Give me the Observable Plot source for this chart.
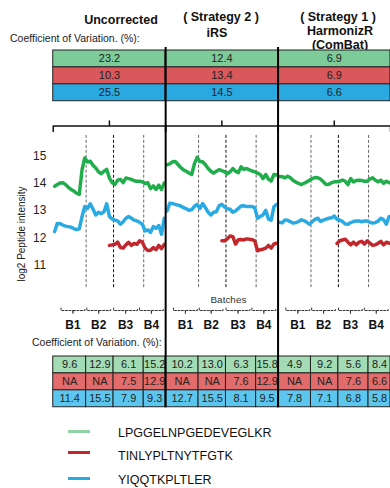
<!DOCTYPE html>
<html><head><meta charset="utf-8">
<script src="https://cdn.jsdelivr.net/npm/d3@7"></script>
<script src="https://cdn.jsdelivr.net/npm/@observablehq/plot@0.6"></script>
<style>
html,body{margin:0;padding:0;background:#fff;overflow:hidden;}
#root{position:relative;width:390px;height:488px;overflow:hidden;font-family:"Liberation Sans",Arial,sans-serif;color:#111;}
#root svg{position:absolute;left:0;overflow:visible;}
.t{position:absolute;white-space:nowrap;}
.hdr{font-weight:bold;font-size:12.5px;line-height:14px;text-align:center;width:140px;}
.cv{font-size:10.5px;line-height:14px;color:#222;}
.leg{font-size:12.5px;line-height:14px;color:#111;}
.sw{position:absolute;width:22px;height:3px;}
</style></head><body><div id="root"></div>
<script>
// ---------- data ----------
const methods = ["Uncorrected", "iRS", "HarmonizR"];
const peptides = ["LPGGELNPGEDEVEGLKR", "TINLYPLTNYTFGTK", "YIQQTKPLTLER"];
const batchNames = ["B1", "B2", "B3", "B4"];
const batchSizes = [12, 10, 11, 8];
const batchLabelPos = [7.2, 16.6, 26.4, 35.8];
const yTicks = [11, 12, 13, 14, 15];

// Coefficient of variation (%) per method (top table)
const cvTopGreen = [23.2, 12.4, 6.9];
const cvTopRed = [10.3, 13.4, 6.9];
const cvTopBlue = [25.5, 14.5, 6.6];

// Coefficient of variation (%) per batch (bottom table), per method
const cvBatchGreen = [["9.6", "12.9", "6.1", "15.2"], ["10.2", "13.0", "6.3", "15.8"], ["4.9", "9.2", "5.6", "8.4"]];
const cvBatchRed = [["NA", "NA", "7.5", "12.9"], ["NA", "NA", "7.6", "12.9"], ["NA", "NA", "7.6", "6.6"]];
const cvBatchBlue = [["11.4", "15.5", "7.9", "9.3"], ["12.7", "15.5", "8.1", "9.5"], ["7.8", "7.1", "6.8", "5.8"]];

// log2 intensities per sample (41 samples), per method
const uncGreen = [13.90,13.96,14.02,14.03,13.96,13.86,13.78,13.72,13.64,13.60,14.50,14.94,14.79,14.82,14.67,14.57,14.43,14.36,14.45,14.52,14.20,14.03,13.97,14.12,14.15,14.03,14.20,14.18,14.15,14.10,14.08,14.08,14.06,14.00,14.03,13.81,13.91,13.78,13.94,13.78,14.02];
const uncBlue = [12.23,12.53,12.52,12.47,12.43,12.41,12.39,12.34,12.30,12.33,12.78,13.15,13.08,13.25,13.06,12.84,12.94,12.89,12.96,13.25,12.78,12.69,12.65,12.62,12.50,12.59,12.72,12.78,12.72,12.65,12.62,12.57,12.50,12.25,12.29,12.20,12.41,12.35,12.45,12.13,12.72];
const uncRed = [null,null,null,null,null,null,null,null,null,null,null,null,null,null,null,null,null,null,null,null,11.72,11.74,11.76,11.84,11.64,11.62,11.74,11.83,11.72,11.79,11.76,11.89,11.84,11.62,11.53,11.54,11.64,11.56,11.72,11.60,11.76];
const irsGreen = [14.69,14.72,14.80,14.81,14.70,14.59,14.50,14.45,14.39,14.33,14.73,14.96,14.81,14.80,14.69,14.55,14.45,14.38,14.45,14.51,14.47,14.43,14.36,14.43,14.55,14.45,14.40,14.61,14.52,14.55,14.50,14.46,14.43,14.38,14.33,14.18,14.33,14.16,14.09,14.33,14.31];
const irsBlue = [12.99,13.27,13.26,13.23,13.20,13.17,13.11,13.07,13.01,13.04,13.16,13.23,13.08,13.26,13.11,12.94,12.84,12.94,12.96,13.18,13.23,13.13,13.07,13.05,12.94,12.99,13.08,13.17,13.18,13.15,13.15,13.15,13.11,12.72,12.78,12.84,13.01,12.69,12.65,13.15,13.23];
const irsRed = [null,null,null,null,null,null,null,null,null,null,null,null,null,null,null,null,null,null,null,null,11.89,11.89,11.96,12.07,12.04,11.77,11.93,11.94,11.92,11.96,11.95,11.93,11.89,11.52,11.56,11.58,11.62,11.72,11.62,11.77,11.80];
const harGreen = [14.26,14.25,14.21,14.27,14.21,14.11,14.05,14.00,13.96,14.01,14.06,14.12,14.18,14.22,14.21,14.16,14.06,13.96,13.97,14.03,14.06,14.06,14.08,14.13,14.08,13.96,14.18,14.06,14.11,14.12,14.11,14.08,14.08,14.17,14.21,14.12,14.06,14.12,14.01,14.08,14.03];
const harBlue = [12.57,12.55,12.66,12.65,12.59,12.54,12.56,12.60,12.66,12.63,12.57,12.50,12.60,12.68,12.72,12.60,12.65,12.69,12.72,12.74,12.80,12.68,12.65,12.60,12.51,12.50,12.56,12.60,12.62,12.62,12.59,12.62,12.62,12.57,12.54,12.56,12.62,12.72,12.66,12.50,12.78];
const harRed = [null,null,null,null,null,null,null,null,null,null,null,null,null,null,null,null,null,null,null,null,null,11.79,11.89,11.92,11.95,11.84,11.74,11.84,11.74,11.84,11.87,11.77,11.89,11.80,11.72,11.74,11.80,11.87,11.74,11.84,11.80];

// ---------- styling ----------
const lineColors = ["#1fae4b", "#c1272d", "#29aae2"];
const topColors = ["#7ccb99", "#d9585b", "#29a9e0"];
const botColors = ["#a3dbb5", "#e26c6c", "#5cc6ee"];
const legendColors = ["#8fd3a6", "#c1272d", "#29abe2"];
const FONT = "Liberation Sans, Arial, sans-serif";

// ---------- derived tables ----------
const nSamples = d3.sum(batchSizes);
const xDomain = [0, nSamples];
const bounds = [0, ...d3.cumsum(batchSizes)];
const innerBounds = bounds.slice(1, -1);

const series = [];
const perMethod = [[uncGreen, uncRed, uncBlue], [irsGreen, irsRed, irsBlue], [harGreen, harRed, harBlue]];
methods.forEach((m, mi) => {
  // draw order: green, blue, red
  [0, 2, 1].forEach(pi => {
    perMethod[mi][pi].forEach((v, i) => {
      if (v != null) series.push({method: m, peptide: peptides[pi], x: i + 0.5, v});
    });
  });
});

const topTable = [];
methods.forEach((m, mi) => {
  [cvTopGreen, cvTopRed, cvTopBlue].forEach((arr, pi) => topTable.push({method: m, peptide: peptides[pi], value: arr[mi].toFixed(1)}));
});

const botTable = [];
methods.forEach((m, mi) => {
  [cvBatchGreen, cvBatchRed, cvBatchBlue].forEach((arr, pi) => {
    arr[mi].forEach((val, bi) => botTable.push({method: m, peptide: peptides[pi], x1: bounds[bi], x2: bounds[bi + 1], value: val}));
  });
});

// ---------- layout ----------
const root = document.getElementById("root");
const W = 392, ML = 53;
function place(el, top) { el.style.top = top + "px"; root.appendChild(el); return el; }
function facetPlot(opts) {
  return Plot.plot(Object.assign({
    width: W, marginLeft: ML, marginRight: 0, marginTop: 0, marginBottom: 0,
    fx: {domain: methods, padding: 0, axis: null},
    x: {domain: xDomain, axis: null},
    style: {fontFamily: FONT, background: "transparent", overflow: "visible"}
  }, opts));
}
function text(cls, str, left, top, extra) {
  const d = document.createElement("div");
  d.className = "t " + cls; d.textContent = str;
  d.style.left = left + "px"; d.style.top = top + "px";
  if (extra) Object.assign(d.style, extra);
  root.appendChild(d); return d;
}

// headers
text("hdr", "Uncorrected", 121 - 70, 13);
text("hdr", "( Strategy 2 )", 221 - 70, 10);
text("hdr", "iRS", 217 - 70, 26);
text("hdr", "( Strategy 1 )", 338 - 70, 10);
text("hdr", "HarmonizR", 340 - 70, 24);
text("hdr", "(ComBat)", 340 - 70, 38);
text("cv", "Coefficient of Variation. (%):", 10, 31);

// top table
place(facetPlot({
  height: 51,
  y: {domain: peptides, padding: 0, axis: null},
  color: {domain: peptides, range: topColors},
  marks: [
    Plot.barX(topTable, {fx: "method", y: "peptide", x1: () => xDomain[0], x2: () => xDomain[1], fill: "peptide", stroke: "#222", strokeWidth: 1, inset: 0}),
    Plot.text(topTable, {fx: "method", y: "peptide", text: "value", fontSize: 11, fill: "#222"})
  ]
}), 50);

// chart
const PX = 27.3;              // pixels per log2 unit
const yOf = px => 15 - (px - 156) / PX; // helper for annotation levels (absolute page px)
const yTopBr = yOf(125.5), yTopEnd = yOf(131), yTopMid = yOf(120.5);
const yDashTop = yOf(135), yDashBot = yOf(288);
const yBatchBr = yOf(311), yBatchLab = yOf(326), yBatchesTxt = yOf(300);
const half = 4.35;

const topBracket = [];
methods.forEach(m => {
  const mid = (xDomain[0] + xDomain[1]) / 2;
  [[xDomain[0], yTopEnd], [xDomain[0], yTopBr], [mid, yTopBr], [mid, yTopMid], [mid, yTopBr], [xDomain[1], yTopBr], [xDomain[1], yTopEnd]]
    .forEach(([x, y]) => topBracket.push({method: m, x, y}));
});
const batchBrackets = [];
methods.forEach(m => batchLabelPos.forEach((c, bi) => {
  const up = 2.5 / PX, dn = 3 / PX;
  [[c - half, yBatchBr + up], [c - half, yBatchBr], [c, yBatchBr], [c, yBatchBr - dn], [c, yBatchBr], [c + half, yBatchBr], [c + half, yBatchBr + up]]
    .forEach(([x, y]) => batchBrackets.push({method: m, key: m + bi, x, y}));
}));
const batchLabels = batchNames.map((b, i) => ({b, x: batchLabelPos[i]}));

place(facetPlot({
  height: 220,
  y: {domain: [yOf(340), yOf(120)], ticks: yTicks, tickSize: 0, tickPadding: 7, label: null, tickFormat: d => d},
  color: {domain: peptides, range: lineColors},
  style: {fontFamily: FONT, fontSize: "12px", background: "transparent", overflow: "visible", color: "#222"},
  marks: [
    Plot.line(topBracket, {fx: "method", x: "x", y: "y", stroke: "#111", strokeWidth: 1.5}),
    Plot.ruleX(innerBounds, {x: d => d, y1: yDashTop, y2: yDashBot, stroke: (d, i) => i === 1 ? "#111" : "#666", strokeDasharray: "3,2", strokeWidth: 1}),
    Plot.line(series, {fx: "method", x: "x", y: "v", z: "peptide", stroke: "peptide", strokeWidth: 3.5, strokeLinejoin: "round"}),
    Plot.line(batchBrackets, {fx: "method", x: "x", y: "y", z: "key", stroke: "#333", strokeWidth: 1, strokeDasharray: "2,1.5"}),
    Plot.text(batchLabels, {x: "x", y: () => yBatchLab, text: "b", fontWeight: "bold", fontSize: 12, fill: "#111"}),
    Plot.text([{method: "iRS", t: "Batches"}], {fx: "method", x: () => 22.9, y: () => yBatchesTxt, text: "t", fontSize: 10, fill: "#333"})
  ]
}), 120);

text("cv", "Coefficient of Variation. (%):", 10, 142 - 0, {top: "335px", left: "32px"});
text("cv", "log2 Peptide intensity", 22 - 60, 234 - 7, {width: "120px", textAlign: "center", transform: "rotate(-90deg)", fontSize: "10px"});

// bottom table
place(facetPlot({
  height: 51,
  y: {domain: peptides, padding: 0, axis: null},
  color: {domain: peptides, range: botColors},
  marks: [
    Plot.barX(botTable, {fx: "method", y: "peptide", x1: "x1", x2: "x2", fill: "peptide", stroke: "#222", strokeWidth: 1, inset: 0}),
    Plot.text(botTable, {fx: "method", y: "peptide", x: d => (d.x1 + d.x2) / 2, text: "value", fontSize: 11, fill: "#222"})
  ]
}), 356);

// separators overlay
const sep = place(facetPlot({
  height: 362,
  y: {domain: [0, 1], axis: null},
  marks: [
    Plot.ruleX(methods.slice(1), {fx: d => d, x: () => xDomain[0], stroke: "#000", strokeWidth: 2})
  ]
}), 47);
sep.style.pointerEvents = "none";

// legend
const legY = [431, 452, 478];
const legTextY = [433, 456, 480];
peptides.forEach((p, i) => {
  const s = document.createElement("div");
  s.className = "sw"; s.style.background = legendColors[i];
  s.style.left = "68px"; s.style.top = (legY[i] - 1.5) + "px";
  root.appendChild(s);
  text("leg", p, 118, legTextY[i] - 7);
});
</script></body></html>
